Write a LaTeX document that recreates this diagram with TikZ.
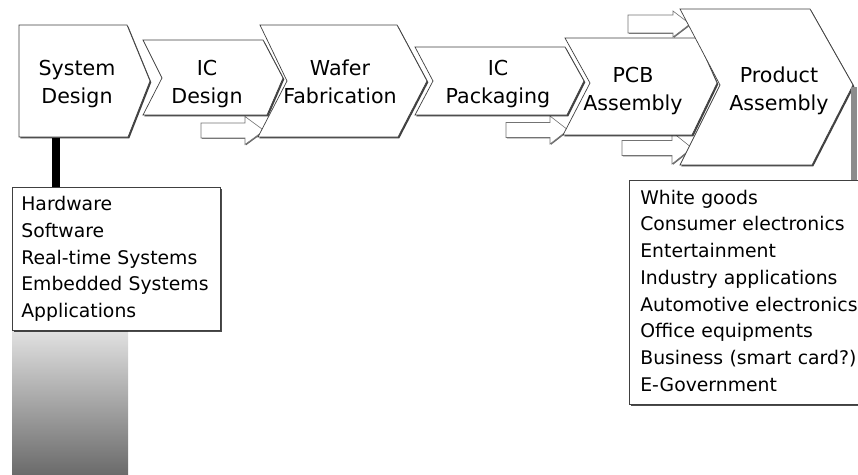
\documentclass[tikz,border=0pt]{standalone}
\usepackage{fontspec}
\setmainfont{DejaVu Sans}
\usetikzlibrary{shadows}
\begin{document}
\begin{tikzpicture}[x=1pt,y=-1pt,
  stage/.style={fill=white, draw=black!75, line width=0.7pt, line join=miter,
    drop shadow={shadow xshift=1.3pt, shadow yshift=-1.3pt, fill=black, opacity=0.75}},
  feeder/.style={fill=white, draw=black!55, line width=0.6pt,
    drop shadow={shadow xshift=0.9pt, shadow yshift=-0.9pt, fill=black, opacity=0.6}},
  title/.style={align=center, inner sep=0pt, font=\fontsize{20.6}{28}\selectfont},
  listbox/.style={draw=black!75, line width=0.7pt, fill=white, align=left,
    anchor=north west, font=\fontsize{18.8}{26.7}\selectfont,
    drop shadow={shadow xshift=1.2pt, shadow yshift=-1.2pt, fill=black, opacity=0.7}}]
\useasboundingbox (0,0) rectangle (858,474);
\clip (0,0) rectangle (858,474);

% small hollow arrows feeding the later stages (drawn underneath)
\filldraw[feeder] (201,123) -- (245,123) -- (245,116.5) -- (264,130.5) -- (245,144.5) -- (245,138) -- (201,138) -- cycle;
\filldraw[feeder] (506,122.5) -- (550,122.5) -- (550,116) -- (568,130) -- (550,144) -- (550,137.5) -- (506,137.5) -- cycle;
\filldraw[feeder] (628,15) -- (673,15) -- (673,11) -- (690,24) -- (673,37) -- (673,33) -- (628,33) -- cycle;
\filldraw[feeder] (622,140.5) -- (672,140.5) -- (672,132) -- (692,148) -- (672,164) -- (672,155.5) -- (622,155.5) -- cycle;

% process chevrons
\filldraw[stage] (19,25) -- (127,25) -- (150,81) -- (128,137) -- (19,137) -- cycle;
\filldraw[stage] (143,40) -- (263,40) -- (283,78) -- (267,115) -- (143,115) -- (162,78) -- cycle;
\filldraw[stage] (260,25) -- (397,25) -- (427,81) -- (398,137) -- (258,137) -- (287,81) -- cycle;
\filldraw[stage] (415,47) -- (565,47) -- (584,81) -- (567,115) -- (415,115) -- (433,81) -- cycle;
\filldraw[stage] (565,38) -- (697,38) -- (717,83) -- (692,135) -- (563,135) -- (590,83) -- cycle;
\filldraw[stage] (680,9) -- (810,9) -- (853,85) -- (812,165) -- (680,165) -- (720,85) -- cycle;

% stage labels
\node[title] (sys)  at (77,83.4)   {\strut System\\\strut Design};
\node[title] (icd)  at (207,83.4)  {\strut IC\\\strut Design};
\node[title] (waf)  at (340,83.4)  {\strut Wafer\\\strut Fabrication};
\node[title] (icp)  at (498,83.4)  {\strut IC\\\strut Packaging};
\node[title] (pcb)  at (633,90.4)  {\strut PCB\\\strut Assembly};
\node[title] (prod) at (779,90.4)  {\strut Product\\\strut Assembly};

% gradient block under the design list
\shade[top color=black!12, bottom color=black!58] (12,331) rectangle (128,474);

% list boxes
\node[listbox, inner xsep=9pt, text width=190pt, minimum height=143pt] (hwlist) at (12,187)
  {\strut Hardware\\\strut Software\\\strut Real-time Systems\\\strut Embedded Systems\\\strut Applications};
\node[listbox, inner xsep=11pt, text width=228pt, minimum height=224pt] (uselist) at (629,180)
  {\strut White goods\\\strut Consumer electronics\\\strut Entertainment\\\strut Industry applications\\\strut Automotive electronics\\\strut Office equipments\\\strut Business (smart card?)\\\strut E-Government};

% connectors from stages to their lists
\coordinate (sysfoot) at (56,137.5);
\draw[line width=8pt, black] (sysfoot) -- (sysfoot |- hwlist.north);
\coordinate (prodtip) at (854,87);
\draw[line width=6pt, black!45] (prodtip) -- (prodtip |- uselist.north);
\end{tikzpicture}
\end{document}
